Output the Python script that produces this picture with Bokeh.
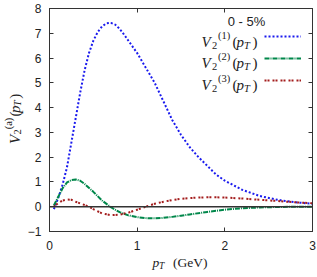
import math
from bokeh.plotting import figure
from bokeh.layouts import row, column
from bokeh.models import (Range1d, LinearAxis, Label, FixedTicker, Span,
                          Legend, LegendItem)
from bokeh.embed import file_html
from bokeh.resources import INLINE

# ---------------- data ----------------
pt_1 = [0.05, 0.1, 0.15, 0.2, 0.25, 0.3, 0.35, 0.4, 0.45, 0.5, 0.55, 0.6, 0.65,
        0.7, 0.75, 0.8, 0.85, 0.9, 1.0, 1.1, 1.2, 1.3, 1.4, 1.5, 1.6, 1.7, 1.8,
        1.9, 2.0, 2.2, 2.4, 2.6, 2.8, 3.0]
v2_1 = [-0.1, 0.35, 0.9, 1.6, 2.6, 3.6, 4.6, 5.5, 6.2, 6.7, 7.05, 7.28, 7.4,
        7.42, 7.35, 7.18, 6.95, 6.7, 6.2, 5.6, 5.0, 4.25, 3.5, 2.9, 2.4, 2.0,
        1.65, 1.3, 1.05, 0.68, 0.43, 0.28, 0.18, 0.12]

pt_2 = [0.05, 0.1, 0.15, 0.2, 0.25, 0.3, 0.35, 0.4, 0.5, 0.6, 0.7, 0.8, 0.9,
        1.0, 1.1, 1.2, 1.3, 1.4, 1.5, 1.6, 1.8, 2.0, 2.2, 2.4, 2.6, 2.8, 3.0]
v2_2 = [0.05, 0.4, 0.75, 0.98, 1.08, 1.1, 1.05, 0.92, 0.6, 0.25, -0.02, -0.22,
        -0.35, -0.42, -0.46, -0.47, -0.45, -0.41, -0.36, -0.31, -0.21, -0.12,
        -0.06, -0.03, -0.01, 0.0, 0.0]

pt_3 = [0.05, 0.1, 0.15, 0.2, 0.25, 0.3, 0.35, 0.4, 0.45, 0.5, 0.6, 0.7, 0.8,
        0.9, 1.0, 1.1, 1.2, 1.3, 1.4, 1.5, 1.6, 1.7, 1.8, 1.9, 2.0, 2.2, 2.4,
        2.6, 2.8, 3.0]
v2_3 = [0.0, 0.15, 0.25, 0.29, 0.28, 0.2, 0.13, 0.07, 0.0, -0.1, -0.27, -0.34,
        -0.32, -0.24, -0.12, 0.0, 0.12, 0.2, 0.27, 0.32, 0.35, 0.37, 0.38,
        0.38, 0.37, 0.33, 0.28, 0.23, 0.18, 0.14]

x_ticks = [0, 1, 2, 3]
y_ticks = [-1, 0, 1, 2, 3, 4, 5, 6, 7, 8]
series_labels = ["(1)", "(2)", "(3)"]
y_label_sup = "(a)"
x_unit = "(GeV)"
centrality = "0 - 5%"

# ---------------- layout geometry (window pixels) ----------------
W, H = 317, 277
YLAB_W = 24            # strip holding the rotated y-axis title
MAIN_H = 252           # main figure height; x-axis title strip below
FL, FR, FT, FB = 43, 312, 8, 233   # plot frame in window pixels

SERIF = "Liberation Serif"
TXT = "#222222"

# ---------------- main figure ----------------
p = figure(width=W - YLAB_W, height=MAIN_H,
           x_range=Range1d(0, 3), y_range=Range1d(-1, 8),
           output_backend="svg", toolbar_location=None,
           min_border_left=FL - YLAB_W, min_border_right=W - FR,
           min_border_top=FT, min_border_bottom=MAIN_H - FB)
p.xgrid.visible = False
p.ygrid.visible = False
p.outline_line_color = "#333333"
p.outline_line_width = 1
p.background_fill_color = "white"
p.border_fill_color = "white"

AX = "#333333"


def style_axis(ax, ticks, standoff, show):
    ax.ticker = FixedTicker(ticks=ticks)
    ax.major_tick_in = 4
    ax.major_tick_out = 0
    ax.minor_tick_in = 0
    ax.minor_tick_out = 0
    ax.axis_line_color = AX
    ax.major_tick_line_color = AX
    ax.major_label_text_font = "Liberation Sans"
    ax.major_label_text_font_size = "12px"
    ax.major_label_text_color = TXT
    ax.major_label_standoff = standoff
    if not show:
        ax.major_label_overrides = {t: "" for t in ticks}
        ax.major_label_standoff = 0


style_axis(p.xaxis[0], x_ticks, 9, True)
style_axis(p.yaxis[0], y_ticks, 8, True)
top_ax = LinearAxis()
right_ax = LinearAxis()
style_axis(top_ax, x_ticks, 0, False)
style_axis(right_ax, y_ticks, 0, False)
p.add_layout(top_ax, "above")
p.add_layout(right_ax, "right")

# zero line
p.add_layout(Span(location=0, dimension="width", line_color="#333333",
                  line_width=1.5))

BLUE = "#1a1aee"
GREEN = "#00874a"
RED = "#a31c1c"

r1 = p.line(pt_1, v2_1, line_color=BLUE, line_width=2, line_dash="2 2")
r2 = p.line(pt_2, v2_2, line_color=GREEN, line_width=2, line_dash="5 1 1 1")
r3 = p.line(pt_3, v2_3, line_color=RED, line_width=2, line_dash="2 1 2 3")

legend = Legend(items=[LegendItem(label=" ", renderers=[r]) for r in (r1, r2, r3)],
                location=(215, 141), glyph_width=37, glyph_height=20,
                spacing=2, padding=0, margin=0, label_width=0,
                label_standoff=0, label_text_font_size="1px",
                border_line_color=None, background_fill_alpha=0)
p.add_layout(legend)


def label(fig, x, y, text, size, style="normal", font=SERIF, angle=0.0,
          align="left", units="data"):
    fig.add_layout(Label(x=x, y=y, x_units=units, y_units=units, text=text,
                         text_font=font, text_font_size=f"{size}px",
                         text_font_style=style, angle=angle, text_align=align,
                         text_baseline="alphabetic", text_color=TXT,
                         level="overlay"))


def put_main(text, wx, wy, size, style="normal", font=SERIF, align="left"):
    # screen units measured from the frame's left / bottom edge
    label(p, wx - FL, FB - wy, text, size, style, font, align=align,
          units="screen")


# centrality
put_main(centrality, 240, 23, 13, font="Liberation Sans", align="center")

# legend labels  V_2^{(k)}(p_T)
for i, lab in enumerate(series_labels):
    yb = 43 + 21.5 * i
    put_main("V", 195, yb, 15, "italic")
    put_main("2", 205.5, yb + 3.5, 10.5)
    put_main(lab, 211.5, yb - 6.5, 10.5)
    put_main("(", 226, yb, 15)
    put_main("p", 230, yb, 15, "italic")
    put_main("T", 237.5, yb + 3.5, 10.5, "italic")
    put_main(")", 246, yb, 15)


def text_strip(w, h):
    f = figure(width=w, height=h, x_range=Range1d(0, w), y_range=Range1d(0, h),
               output_backend="svg", toolbar_location=None,
               x_axis_location=None, y_axis_location=None,
               min_border_left=0, min_border_right=0, min_border_top=0,
               min_border_bottom=0)
    f.xgrid.visible = False
    f.ygrid.visible = False
    f.outline_line_color = None
    f.background_fill_color = "white"
    f.border_fill_color = "white"
    return f


# y-axis title strip (left): V_2^{(a)}(p_T), rotated to read upwards
ylab = text_strip(YLAB_W, MAIN_H)
A = math.pi / 2
xb = 14


def put_y(text, wy, dx, size, style="normal"):
    label(ylab, xb + dx, MAIN_H - wy, text, size, style, angle=A)


put_y("V", 153, 0, 15, "italic")
put_y("2", 142.5, 3.2, 10.5)
put_y(y_label_sup, 136.5, -6.5, 10.5)
put_y("(", 122, 0, 15)
put_y("p", 118, 0, 15, "italic")
put_y("T", 110.5, 3.2, 10.5, "italic")
put_y(")", 102, 0, 15)

# x-axis title strip (bottom): p_T (GeV)
xlab = text_strip(W, H - MAIN_H)


def put_x(text, wx, wy, size, style="normal"):
    label(xlab, wx, H - wy, text, size, style)


put_x("p", 152, 262, 13.5, "italic")
put_x("T", 158.5, 265, 9.5, "italic")
put_x(x_unit, 172.5, 262, 13.5)

layout = column(row(ylab, p), xlab)
open("out.html", "w").write(file_html(layout, INLINE))
